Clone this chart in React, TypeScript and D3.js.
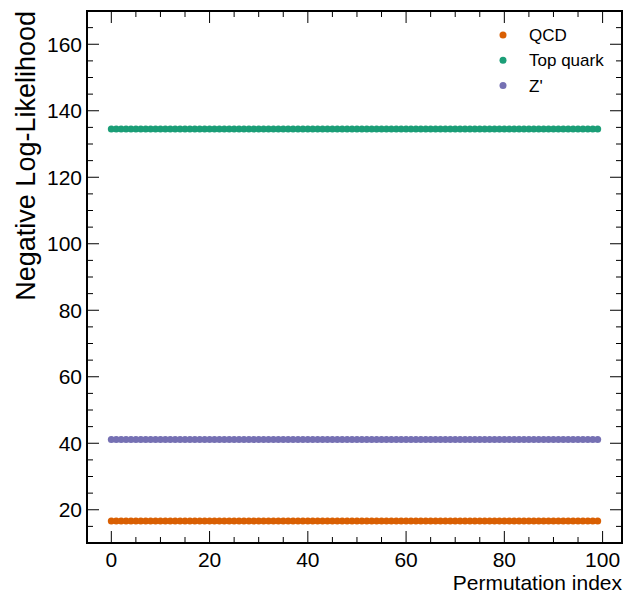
import React from "react";
import * as d3 from "d3";

const permutationIndex: number[] = d3.range(0, 100);

const qcdNLL: number[] = [
  16.6, 16.6, 16.6, 16.6, 16.6, 16.6, 16.6, 16.6, 16.6, 16.6, 16.6, 16.6, 16.6, 16.6, 16.6, 16.6, 16.6, 16.6, 16.6, 16.6,
  16.6, 16.6, 16.6, 16.6, 16.6, 16.6, 16.6, 16.6, 16.6, 16.6, 16.6, 16.6, 16.6, 16.6, 16.6, 16.6, 16.6, 16.6, 16.6, 16.6,
  16.6, 16.6, 16.6, 16.6, 16.6, 16.6, 16.6, 16.6, 16.6, 16.6, 16.6, 16.6, 16.6, 16.6, 16.6, 16.6, 16.6, 16.6, 16.6, 16.6,
  16.6, 16.6, 16.6, 16.6, 16.6, 16.6, 16.6, 16.6, 16.6, 16.6, 16.6, 16.6, 16.6, 16.6, 16.6, 16.6, 16.6, 16.6, 16.6, 16.6,
  16.6, 16.6, 16.6, 16.6, 16.6, 16.6, 16.6, 16.6, 16.6, 16.6, 16.6, 16.6, 16.6, 16.6, 16.6, 16.6, 16.6, 16.6, 16.6, 16.6,
];

const topNLL: number[] = [
  134.5, 134.5, 134.5, 134.5, 134.5, 134.5, 134.5, 134.5, 134.5, 134.5, 134.5, 134.5, 134.5, 134.5, 134.5, 134.5, 134.5, 134.5, 134.5, 134.5,
  134.5, 134.5, 134.5, 134.5, 134.5, 134.5, 134.5, 134.5, 134.5, 134.5, 134.5, 134.5, 134.5, 134.5, 134.5, 134.5, 134.5, 134.5, 134.5, 134.5,
  134.5, 134.5, 134.5, 134.5, 134.5, 134.5, 134.5, 134.5, 134.5, 134.5, 134.5, 134.5, 134.5, 134.5, 134.5, 134.5, 134.5, 134.5, 134.5, 134.5,
  134.5, 134.5, 134.5, 134.5, 134.5, 134.5, 134.5, 134.5, 134.5, 134.5, 134.5, 134.5, 134.5, 134.5, 134.5, 134.5, 134.5, 134.5, 134.5, 134.5,
  134.5, 134.5, 134.5, 134.5, 134.5, 134.5, 134.5, 134.5, 134.5, 134.5, 134.5, 134.5, 134.5, 134.5, 134.5, 134.5, 134.5, 134.5, 134.5, 134.5,
];

const zprimeNLL: number[] = [
  41.1, 41.1, 41.1, 41.1, 41.1, 41.1, 41.1, 41.1, 41.1, 41.1, 41.1, 41.1, 41.1, 41.1, 41.1, 41.1, 41.1, 41.1, 41.1, 41.1,
  41.1, 41.1, 41.1, 41.1, 41.1, 41.1, 41.1, 41.1, 41.1, 41.1, 41.1, 41.1, 41.1, 41.1, 41.1, 41.1, 41.1, 41.1, 41.1, 41.1,
  41.1, 41.1, 41.1, 41.1, 41.1, 41.1, 41.1, 41.1, 41.1, 41.1, 41.1, 41.1, 41.1, 41.1, 41.1, 41.1, 41.1, 41.1, 41.1, 41.1,
  41.1, 41.1, 41.1, 41.1, 41.1, 41.1, 41.1, 41.1, 41.1, 41.1, 41.1, 41.1, 41.1, 41.1, 41.1, 41.1, 41.1, 41.1, 41.1, 41.1,
  41.1, 41.1, 41.1, 41.1, 41.1, 41.1, 41.1, 41.1, 41.1, 41.1, 41.1, 41.1, 41.1, 41.1, 41.1, 41.1, 41.1, 41.1, 41.1, 41.1,
];

const seriesNames: string[] = ["QCD", "Top quark", "Z'"];
const seriesColors: string[] = ["#d95f02", "#1b9e77", "#7570b3"];

const xMajorTicks: number[] = [0, 20, 40, 60, 80, 100];
const yMajorTicks: number[] = [20, 40, 60, 80, 100, 120, 140, 160];

const W = 624;
const H = 596;
const L = 87;
const R = 622;
const T = 11;
const B = 543;
const FONT = "'Liberation Sans', Arial, Helvetica, sans-serif";

export default function App() {
  const x = d3.scaleLinear().domain([-4.95, 103.95]).range([L, R]);
  const y = d3.scaleLinear().domain([10, 170]).range([B, T]);

  const xMinor = d3.range(-5, 106, 5).filter((v) => v >= -4.95 && v <= 103.95 && !xMajorTicks.includes(v));
  const yMinor = d3.range(10, 171, 5).filter((v) => v > 10 && v < 170 && !yMajorTicks.includes(v));

  const series = [qcdNLL, topNLL, zprimeNLL];
  const majLen = 12;
  const minLen = 6;

  return (
    <svg
      width={W}
      height={H}
      style={{ position: "absolute", left: 0, top: 0, background: "#fff" }}
      fontFamily={FONT}
    >
      <rect x={0} y={0} width={W} height={H} fill="#fff" />
      {/* data */}
      {series.map((vals, si) => (
        <g key={si} fill={seriesColors[si]}>
          {permutationIndex.map((pi, i) => (
            <circle key={i} cx={x(pi)} cy={y(vals[i])} r={3.5} />
          ))}
        </g>
      ))}
      {/* ticks */}
      <g stroke="#000" strokeWidth={1}>
        {xMajorTicks.map((v) => (
          <g key={"xm" + v}>
            <line x1={x(v)} x2={x(v)} y1={B} y2={B - majLen} />
            <line x1={x(v)} x2={x(v)} y1={T} y2={T + majLen} />
          </g>
        ))}
        {xMinor.map((v) => (
          <g key={"xn" + v}>
            <line x1={x(v)} x2={x(v)} y1={B} y2={B - minLen} />
            <line x1={x(v)} x2={x(v)} y1={T} y2={T + minLen} />
          </g>
        ))}
        {yMajorTicks.map((v) => (
          <g key={"ym" + v}>
            <line x1={L} x2={L + majLen} y1={y(v)} y2={y(v)} />
            <line x1={R} x2={R - majLen} y1={y(v)} y2={y(v)} />
          </g>
        ))}
        {yMinor.map((v) => (
          <g key={"yn" + v}>
            <line x1={L} x2={L + minLen} y1={y(v)} y2={y(v)} />
            <line x1={R} x2={R - minLen} y1={y(v)} y2={y(v)} />
          </g>
        ))}
      </g>
      {/* frame */}
      <rect x={L} y={T} width={R - L} height={B - T} fill="none" stroke="#000" strokeWidth={2} />
      {/* tick labels */}
      <g fontSize={21} fill="#000">
        {xMajorTicks.map((v) => (
          <text key={"xl" + v} x={x(v)} y={567} textAnchor="middle">
            {v}
          </text>
        ))}
        {yMajorTicks.map((v) => (
          <text key={"yl" + v} x={82} y={y(v)} dy="0.355em" textAnchor="end">
            {v}
          </text>
        ))}
      </g>
      {/* axis labels */}
      <text x={R} y={590} fontSize={21} textAnchor="end" fill="#000">
        Permutation index
      </text>
      <text
        transform={`translate(35, ${T}) rotate(-90)`}
        fontSize={27}
        textAnchor="end"
        fill="#000"
      >
        Negative Log-Likelihood
      </text>
      {/* legend */}
      <g fontSize={17}>
        {seriesNames.map((name, i) => (
          <g key={name} transform={`translate(0, ${35 + i * 25.3})`}>
            <circle cx={503} cy={0} r={3.5} fill={seriesColors[i]} />
            <text x={529} y={0} dy="0.355em" fill="#000">
              {name}
            </text>
          </g>
        ))}
      </g>
    </svg>
  );
}
